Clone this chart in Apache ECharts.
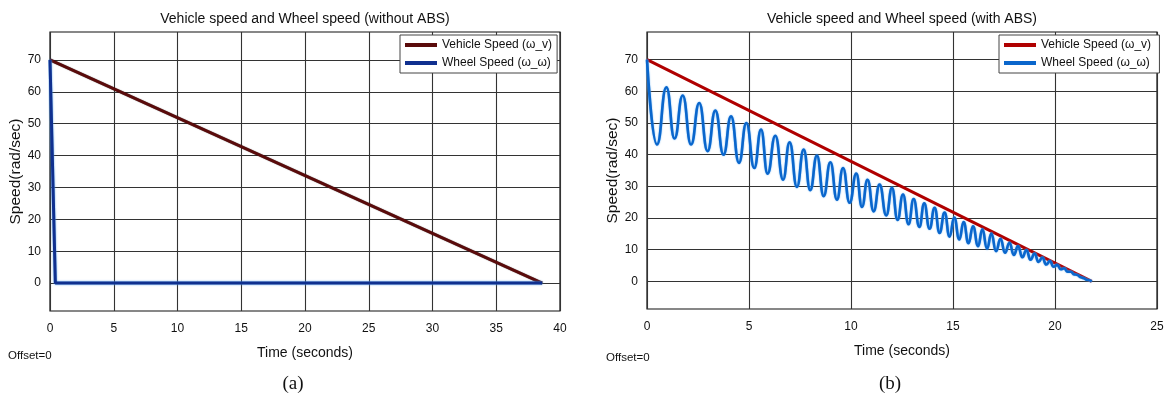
<!DOCTYPE html>
<html><head><meta charset="utf-8">
<script src="https://cdn.jsdelivr.net/npm/echarts@6/dist/echarts.min.js"></script>
<style>html,body{margin:0;padding:0;background:#fff}#c{width:1168px;height:401px}</style>
</head><body><div id="c"></div>
<script>
// ---- data ----
const titleA = 'Vehicle speed and Wheel speed (without ABS)';
const titleB = 'Vehicle speed and Wheel speed (with ABS)';
const nameVehicle = 'Vehicle Speed (\u03c9_v)';
const nameWheel = 'Wheel Speed (\u03c9_\u03c9)';
const yTicks = [0, 10, 20, 30, 40, 50, 60, 70];
const xTicksA = [0, 5, 10, 15, 20, 25, 30, 35, 40];
const xTicksB = [0, 5, 10, 15, 20, 25];

// (a) without ABS: [time, speed]
const vehicleA = [[0, 70], [38.6, 0]];
const wheelA = [[0, 70], [0.42, 0], [38.6, 0]];

// (b) with ABS
const vehicleB = [[0, 70], [21.8, 0]];
const wheelB = [
  [0, 70],
  [0.49, 43.2], [0.95, 61.3], [1.35, 45.1], [1.75, 58.7], [2.16, 43.2], [2.56, 56.3], [2.97, 41.1],
  [3.35, 53.9], [3.75, 40.0], [4.12, 52.1], [4.51, 37.4], [4.87, 50.0], [5.26, 35.8], [5.59, 47.9],
  [5.91, 34.0], [6.29, 46.0], [6.67, 32.1], [6.99, 43.9], [7.35, 29.8], [7.68, 41.6], [8.0, 28.8],
  [8.33, 39.7], [8.66, 26.9], [8.99, 37.6], [9.31, 25.8], [9.61, 35.8], [9.93, 24.8], [10.26, 34.0],
  [10.54, 23.5], [10.81, 32.1], [11.11, 22.1], [11.40, 30.6], [11.73, 20.8],
  [12.01, 29.5], [12.28, 19.4], [12.55, 27.4], [12.82, 18.0], [13.07, 26.0], [13.35, 17.2],
  [13.59, 24.6], [13.85, 16.6], [14.10, 23.2], [14.34, 15.3], [14.59, 21.7], [14.83, 14.1],
  [15.06, 20.1], [15.31, 13.2], [15.52, 18.7], [15.76, 12.0], [15.98, 17.4], [16.23, 11.1],
  [16.44, 16.4], [16.67, 10.3], [16.88, 15.1], [17.11, 9.5],
  [17.33, 13.4], [17.55, 9.0], [17.77, 12.2], [17.98, 8.3], [18.19, 11.1], [18.40, 7.6],
  [18.60, 9.9], [18.80, 6.8], [19.00, 8.8], [19.19, 6.1], [19.38, 7.5], [19.57, 5.3],
  [19.75, 6.4], [19.93, 4.6], [20.11, 5.2], [20.28, 3.8], [20.45, 4.1], [20.62, 3.0],
  [20.78, 3.0], [20.94, 2.2], [21.10, 2.0], [21.25, 1.3], [21.40, 1.0], [21.55, 0.5], [21.8, 0]
];

// ---- chart ----
const chart = echarts.init(document.getElementById('c'), null, {renderer: 'canvas'});
const FONT = '"Liberation Sans", Arial, Helvetica, sans-serif';
const gridLine = {show: true, lineStyle: {color: '#333', width: 1.1}};

function xAxis(gi, ticks) {
  return {
    gridIndex: gi, type: 'value', min: ticks[0], max: ticks[ticks.length - 1], interval: 5,
    axisLine: {show: false}, axisTick: {show: false},
    axisLabel: {color: '#111', fontSize: 12, margin: 12, fontFamily: FONT},
    splitLine: gridLine,
    name: 'Time (seconds)', nameLocation: 'middle', nameGap: 35,
    nameTextStyle: {color: '#111', fontSize: 14, fontFamily: FONT}
  };
}
function yAxis(gi) {
  return {
    gridIndex: gi, type: 'value', min: -8.75, max: 78.75,
    axisLine: {show: false},
    axisTick: {show: false, customValues: yTicks},
    axisLabel: {color: '#111', fontSize: 12, margin: 9, fontFamily: FONT, customValues: yTicks},
    splitLine: gridLine,
    name: 'Speed(rad/sec)', nameLocation: 'middle', nameGap: 26, nameRotate: 90,
    nameTextStyle: {color: '#111', fontSize: 15.5, fontFamily: FONT}
  };
}
function legend(left, top, names, colors) {
  return {
    orient: 'vertical', left: left, top: top, icon: 'rect', itemWidth: 32, itemHeight: 4,
    itemGap: 6, padding: [4, 5, 4, 5], borderColor: '#444', borderWidth: 1, backgroundColor: '#fff',
    textStyle: {fontSize: 12, color: '#111', fontFamily: FONT},
    selectedMode: false,
    data: names.map((n, i) => ({name: n, itemStyle: {color: colors[i]}}))
  };
}
const nameVehicleB = nameVehicle + ' ';
const nameWheelB = nameWheel + ' ';

chart.setOption({
  animation: false,
  backgroundColor: '#fff',
  grid: [
    {left: 50, top: 32, width: 510, height: 279, show: true, borderColor: '#111', borderWidth: 1.2, backgroundColor: 'transparent'},
    {left: 647, top: 32, width: 510, height: 277, show: true, borderColor: '#111', borderWidth: 1.2, backgroundColor: 'transparent'}
  ],
  xAxis: [xAxis(0, xTicksA), xAxis(1, xTicksB)],
  yAxis: [yAxis(0), yAxis(1)],
  legend: [
    legend(400, 35, [nameVehicle, nameWheel], ['#5a0b0b', '#10308f']),
    legend(999, 35, [nameVehicleB, nameWheelB], ['#b00000', '#0a66cc'])
  ],
  series: [
    {name: nameVehicle, type: 'line', xAxisIndex: 0, yAxisIndex: 0, data: vehicleA, showSymbol: false,
     lineStyle: {color: '#5a0b0b', width: 3, shadowColor: 'rgba(0,0,0,0.6)', shadowBlur: 1}, itemStyle: {color: '#5a0b0b'}},
    {name: nameWheel, type: 'line', xAxisIndex: 0, yAxisIndex: 0, data: wheelA, showSymbol: false,
     lineStyle: {color: '#10308f', width: 3, shadowColor: '#4a9ae8', shadowBlur: 2}, itemStyle: {color: '#10308f'}},
    {name: nameVehicleB, type: 'line', xAxisIndex: 1, yAxisIndex: 1, data: vehicleB, showSymbol: false,
     lineStyle: {color: '#b00000', width: 3}, itemStyle: {color: '#b00000'}},
    {name: nameWheelB, type: 'line', xAxisIndex: 1, yAxisIndex: 1, data: wheelB, showSymbol: false,
     smooth: 0.5, smoothMonotone: 'x',
     lineStyle: {color: '#0a66cc', width: 2.6, shadowColor: '#5aa8f0', shadowBlur: 1.5}, itemStyle: {color: '#0a66cc'}}
  ],
  graphic: [
    {type: 'text', x: 305, y: 19, style: {text: titleA, fontSize: 14, fontFamily: FONT, fill: '#111', textAlign: 'center', textVerticalAlign: 'middle'}},
    {type: 'text', x: 902, y: 19, style: {text: titleB, fontSize: 14, fontFamily: FONT, fill: '#111', textAlign: 'center', textVerticalAlign: 'middle'}},
    {type: 'text', x: 8, y: 356, style: {text: 'Offset=0', fontSize: 11.5, fontFamily: FONT, fill: '#111', textAlign: 'left', textVerticalAlign: 'middle'}},
    {type: 'text', x: 606, y: 358, style: {text: 'Offset=0', fontSize: 11.5, fontFamily: FONT, fill: '#111', textAlign: 'left', textVerticalAlign: 'middle'}},
    {type: 'text', x: 293, y: 384, style: {text: '(a)', fontSize: 19, fontFamily: 'Liberation Serif, Times New Roman, serif', fill: '#111', textAlign: 'center', textVerticalAlign: 'middle'}},
    {type: 'text', x: 890, y: 384, style: {text: '(b)', fontSize: 19, fontFamily: 'Liberation Serif, Times New Roman, serif', fill: '#111', textAlign: 'center', textVerticalAlign: 'middle'}}
  ]
});
</script>
</body></html>
